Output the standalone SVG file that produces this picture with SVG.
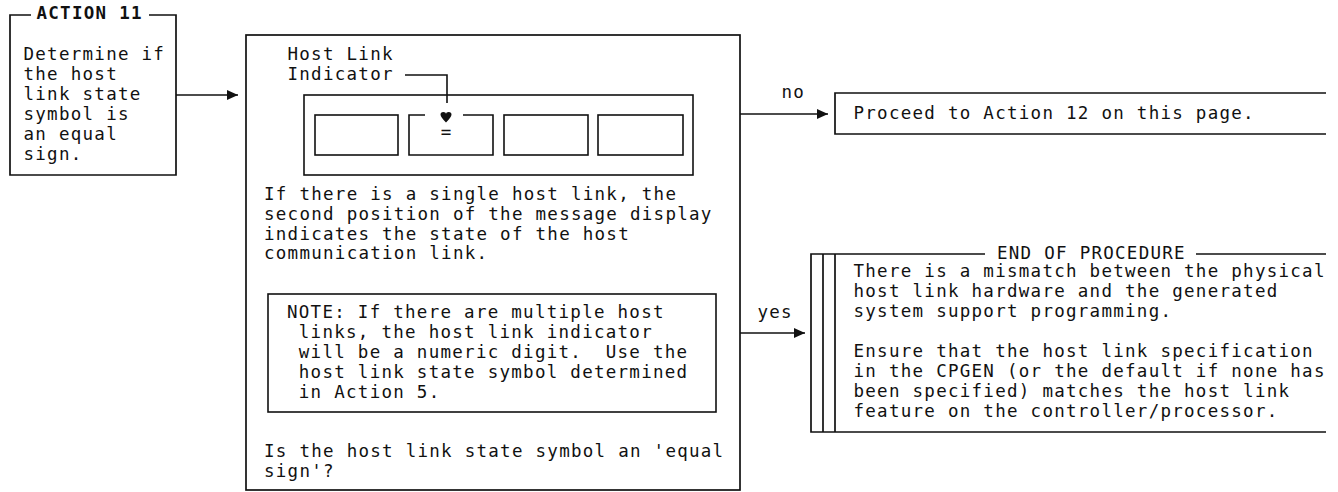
<svg xmlns="http://www.w3.org/2000/svg" width="1338" height="492" viewBox="0 0 1338 492">
<style>
.t{font-family:"DejaVu Sans Mono","Liberation Mono",monospace;font-size:17.5px;letter-spacing:1.27px;fill:#111;white-space:pre}
.tb{font-weight:bold}
.b{fill:none;stroke:#111;stroke-width:1.7}
.c{fill:none;stroke:#111;stroke-width:1.6}
</style>
<defs>
<marker id="ah" markerWidth="11" markerHeight="10" refX="11" refY="5" orient="auto" markerUnits="userSpaceOnUse"><path d="M0,0 L11,5 L0,10 Z" fill="#111"/></marker>
<clipPath id="clipR"><rect x="0" y="0" width="1330" height="492"/></clipPath>
</defs>
<rect width="1338" height="492" fill="#fff"/>

<g id="action11">
<path class="b" d="M31,15 H10 V175 H176 V15 H149"/>
<text class="t tb" x="36.5" y="18.5">ACTION 11</text>
<text class="t" x="23.5" y="60">Determine if</text>
<text class="t" x="23.5" y="80">the host</text>
<text class="t" x="23.5" y="100">link state</text>
<text class="t" x="23.5" y="120">symbol is</text>
<text class="t" x="23.5" y="140">an equal</text>
<text class="t" x="23.5" y="160">sign.</text>
</g>

<g id="question">
<rect class="b" x="246" y="35" width="494" height="455"/>
<text class="t" x="287.5" y="60">Host Link</text>
<text class="t" x="287.5" y="80">Indicator</text>
<path class="c" d="M405,75 H447 V103"/>
<rect class="c" x="304" y="95" width="389" height="80"/>
<rect class="c" x="315" y="115" width="83" height="40"/>
<path class="c" d="M425,115 H409 V155 H493 V115 H463"/>
<rect class="c" x="504" y="115" width="84" height="40"/>
<rect class="c" x="598" y="115" width="85" height="40"/>
<path d="M440.5,114.5 Q440.5,112 443.2,112 Q446,112 446,114.3 Q446,112 448.8,112 Q451.5,112 451.5,114.5 Q451.5,117 446,122.5 Q440.5,117 440.5,114.5 Z" fill="#111"/>
<text class="t" x="446" y="138" text-anchor="middle" style="letter-spacing:0">=</text>
<text class="t" x="264" y="200">If there is a single host link, the</text>
<text class="t" x="264" y="220">second position of the message display</text>
<text class="t" x="264" y="240">indicates the state of the host</text>
<text class="t" x="264" y="259">communication link.</text>
<rect class="c" x="268" y="294" width="448" height="118"/>
<text class="t" x="287" y="318">NOTE: If there are multiple host</text>
<text class="t" x="298.8" y="338">links, the host link indicator</text>
<text class="t" x="298.8" y="358">will be a numeric digit.  Use the</text>
<text class="t" x="298.8" y="378">host link state symbol determined</text>
<text class="t" x="298.8" y="398">in Action 5.</text>
<text class="t" x="264" y="457">Is the host link state symbol an 'equal</text>
<text class="t" x="264" y="477">sign'?</text>
</g>

<g id="proceed">
<path class="b" d="M1326,93 H835 V134 H1326"/>
<text class="t" x="853.5" y="119">Proceed to Action 12 on this page.</text>
</g>

<g id="end" clip-path="url(#clipR)">
<path class="b" d="M985,254 H811 V432 H1326"/>
<path class="b" d="M1196,254 H1326"/>
<path class="b" d="M823,254 V432 M835,254 V432"/>
<text class="t" x="997" y="259">END OF PROCEDURE</text>
<text class="t" x="853.5" y="277">There is a mismatch between the physical</text>
<text class="t" x="853.5" y="297">host link hardware and the generated</text>
<text class="t" x="853.5" y="317">system support programming.</text>
<text class="t" x="853.5" y="357">Ensure that the host link specification</text>
<text class="t" x="853.5" y="377">in the CPGEN (or the default if none has</text>
<text class="t" x="853.5" y="397">been specified) matches the host link</text>
<text class="t" x="853.5" y="417">feature on the controller/processor.</text>
</g>

<g id="connectors">
<path class="c" d="M176,95 H238" marker-end="url(#ah)"/>
<path class="c" d="M740,114 H828" marker-end="url(#ah)"/>
<text class="t" x="781.5" y="98">no</text>
<path class="c" d="M740,333 H805" marker-end="url(#ah)"/>
<text class="t" x="757.5" y="318">yes</text>
</g>
</svg>
